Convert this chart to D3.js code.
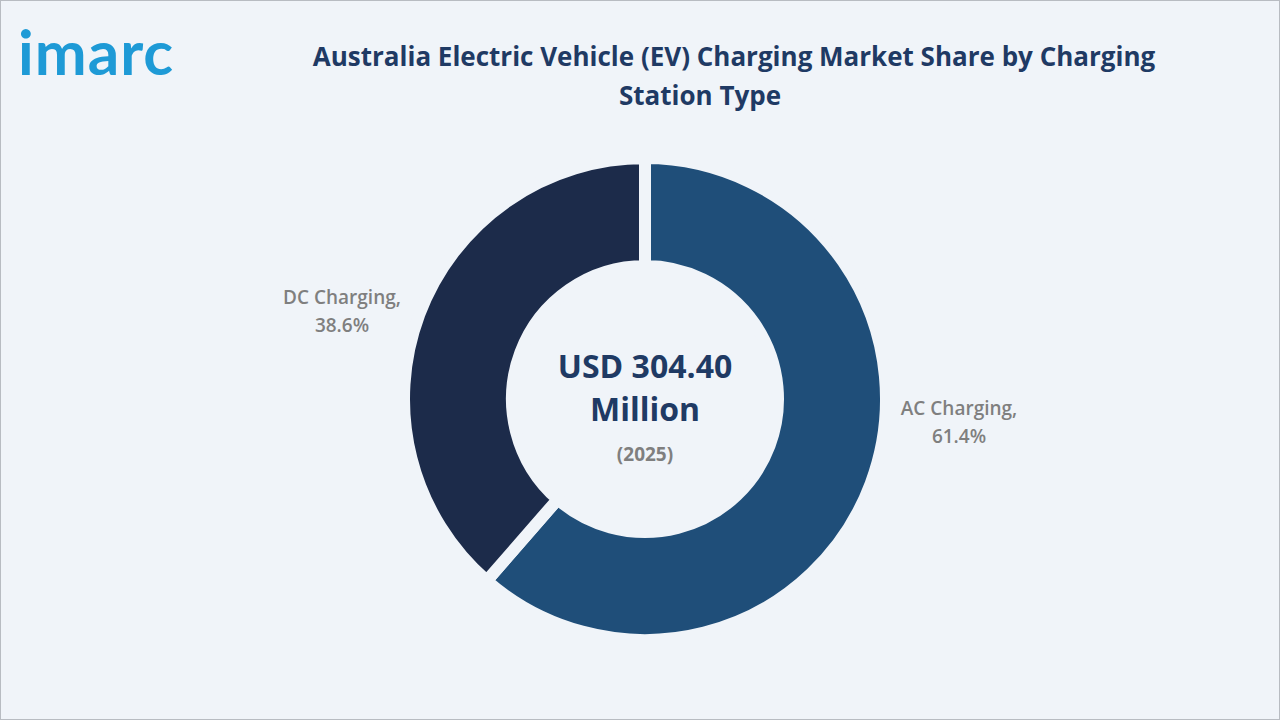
<!DOCTYPE html>
<html>
<head>
<meta charset="utf-8">
<script src="https://cdn.jsdelivr.net/npm/d3@7"></script>
<style>
  body { margin: 0; background: #f0f4f9; }
  svg { display: block; font-family: "Open Sans", "DejaVu Sans", sans-serif; }
</style>
</head>
<body>
<svg id="chart" width="1280" height="720"></svg>
<script>
// chart data
var categories = ["AC Charging", "DC Charging"];
var shares = [61.4, 38.6];
var colors = ["#1f4e79", "#1c2b4a"];
var centerValue = "USD 304.40";
var centerUnit = "Million";
var centerYear = "(2025)";

var svg = d3.select("#chart");

svg.append("rect")
  .attr("x", 0.5).attr("y", 0.5)
  .attr("width", 1279).attr("height", 719)
  .attr("fill", "#f0f4f9")
  .attr("stroke", "#b8bcc2");

// logo
svg.append("text")
  .attr("x", 18).attr("y", 75)
  .attr("font-size", 62).attr("font-weight", "bold")
  .attr("letter-spacing", 1)
  .attr("fill", "#1e9ad6")
  .attr("font-family", "Lato, sans-serif")
  .text("imarc");

// title
var title = svg.append("text")
  .attr("text-anchor", "middle")
  .attr("fill", "#1f3a64")
  .attr("font-size", 26).attr("font-weight", "bold");
title.append("tspan").attr("x", 734).attr("y", 66)
  .text("Australia Electric Vehicle (EV) Charging Market Share by Charging");
title.append("tspan").attr("x", 700).attr("y", 105).text("Station Type");

var cx = 645, cy = 399;
var g = svg.append("g").attr("transform", `translate(${cx},${cy})`);

var pie = d3.pie().sort(null).value(d => d);
var arc = d3.arc().innerRadius(133).outerRadius(241);

g.selectAll("path")
  .data(pie(shares))
  .join("path")
  .attr("d", arc)
  .attr("fill", (d, i) => colors[i])
  .attr("stroke", "#f0f4f9")
  .attr("stroke-width", 12);

// slice labels
pie(shares).forEach(function (d, i) {
  var t = g.append("text")
    .attr("text-anchor", "middle")
    .attr("fill", "#7f7f7f")
    .attr("font-size", 19)
    .attr("font-weight", 600);
  var x = i === 0 ? 314 : -303;
  var y = i === 0 ? 16 : -95;
  t.append("tspan").attr("x", x).attr("y", y).text(categories[i] + ",");
  t.append("tspan").attr("x", x).attr("y", y + 28).text(shares[i].toFixed(1) + "%");
});

// center text
g.append("text").attr("text-anchor", "middle").attr("y", -21)
  .attr("fill", "#1f3a64").attr("font-size", 32).attr("font-weight", "bold")
  .text(centerValue);
g.append("text").attr("text-anchor", "middle").attr("y", 22)
  .attr("fill", "#1f3a64").attr("font-size", 32).attr("font-weight", "bold")
  .text(centerUnit);
g.append("text").attr("text-anchor", "middle").attr("y", 62)
  .attr("fill", "#7f7f7f").attr("font-size", 19).attr("font-weight", "bold")
  .text(centerYear);
</script>
</body>
</html>
